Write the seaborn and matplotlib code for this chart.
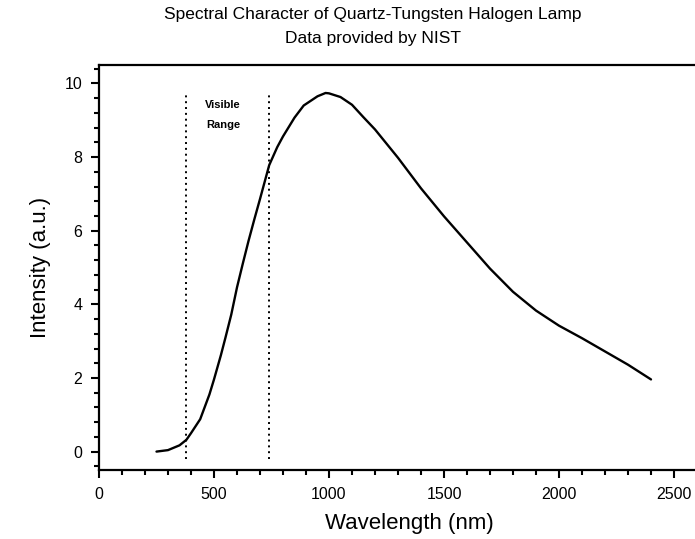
import numpy as np
import pandas as pd
import matplotlib
matplotlib.use("Agg")
import matplotlib.pyplot as plt
from matplotlib.ticker import MultipleLocator
import seaborn as sns

# values
wavelength = [250, 300, 350, 380, 400, 440, 480, 500, 530, 550, 575, 600, 625,
              650, 675, 700, 740, 775, 800, 850, 890, 950, 985, 1000, 1050,
              1100, 1150, 1200, 1300, 1400, 1500, 1600, 1700, 1800, 1900, 2000,
              2100, 2200, 2300, 2400]
intensity = [0.0, 0.04, 0.17, 0.32, 0.50, 0.88, 1.55, 1.96, 2.62, 3.10, 3.72,
             4.46, 5.10, 5.72, 6.30, 6.86, 7.78, 8.27, 8.56, 9.07, 9.40, 9.65,
             9.74, 9.73, 9.63, 9.42, 9.08, 8.75, 7.98, 7.15, 6.39, 5.68, 4.97,
             4.34, 3.83, 3.42, 3.08, 2.72, 2.36, 1.96]
visible_edges = [380, 740]
marker_span = [-0.2, 9.7]

df = pd.DataFrame({"wavelength": wavelength, "intensity": intensity})

sns.set_style("ticks")
plt.rcParams["font.family"] = ["Liberation Sans", "DejaVu Sans"]
for key in ["text.color", "axes.labelcolor", "xtick.color", "ytick.color"]:
    plt.rcParams[key] = "black"

fig = plt.figure(figsize=(6.95, 5.39), dpi=100)
ax = fig.add_axes([99 / 695, 69 / 539, 621 / 695, 405 / 539])

sns.lineplot(data=df, x="wavelength", y="intensity", ax=ax, color="black", lw=1.7)
for edge in visible_edges:
    ax.plot([edge, edge], marker_span, ls=(0, (1, 2)), color="black", lw=1.4)

ax.text(540, 9.4, "Visible", ha="center", va="center", fontsize=8, fontweight="bold")
ax.text(540, 8.86, "Range", ha="center", va="center", fontsize=8, fontweight="bold")

ax.set_xlim(0, 2700)
ax.set_ylim(-0.5, 10.5)
ax.xaxis.set_major_locator(MultipleLocator(500))
ax.xaxis.set_minor_locator(MultipleLocator(100))
ax.yaxis.set_major_locator(MultipleLocator(2))
ax.yaxis.set_minor_locator(MultipleLocator(0.4))
ax.tick_params(which="major", length=6, width=1.5, labelsize=11.5, pad=6)
ax.tick_params(which="minor", length=3.5, width=1.5)

for s in ["left", "bottom", "top"]:
    ax.spines[s].set_linewidth(1.6)
    ax.spines[s].set_color("black")
ax.spines["right"].set_visible(False)

ax.set_xlabel("Wavelength (nm)", fontsize=16, labelpad=8)
ax.set_ylabel("Intensity (a.u.)", fontsize=16, labelpad=10)

fig.text(373 / 695, 1 - 14 / 539, "Spectral Character of Quartz-Tungsten Halogen Lamp",
         ha="center", va="center", fontsize=12.5)
fig.text(373 / 695, 1 - 38 / 539, "Data provided by NIST",
         ha="center", va="center", fontsize=12.5)

fig.savefig("out.png", dpi=100)
